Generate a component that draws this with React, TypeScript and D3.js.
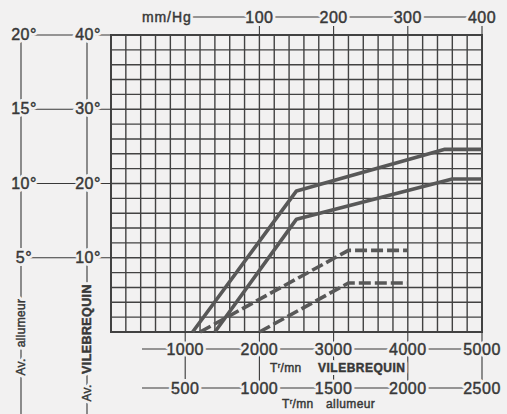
import React from "react";
import * as d3 from "d3";

const rpmTicks = [1000, 2000, 3000, 4000, 5000];
const allumeurTicks = [500, 1000, 1500, 2000, 2500];
const vacuumTicks = [100, 200, 300, 400];
const vilDegTicks = [10, 20, 30, 40];
const allDegTicks = [5, 10, 15, 20];

const solidUpper: [number, number][] = [[1100, 0], [2500, 19], [4500, 24.6], [5000, 24.6]];
const solidLower: [number, number][] = [[1400, 0], [2500, 15.2], [4600, 20.6], [5000, 20.6]];
const dashedUpper: [number, number][] = [[1200, 0], [3200, 11], [4000, 11]];
const dashedLower: [number, number][] = [[2000, 0], [3200, 6.6], [4000, 6.6]];

const W = 507, H = 414;
const BG = "#f2f1f1";
const INK = "#383838";
const GRID = "#424242";
const CURVE = "#585858";
const FONT = "'Liberation Sans', Arial, sans-serif";

type LabelProps = {
  x?: number; y?: number; transform?: string; size?: number; anchor?: string;
  weight?: string | number; spacing?: number; children: React.ReactNode; dy?: string;
};

function Label({ x, y, transform, size = 16, anchor = "middle", weight = "normal", spacing = 0.5, children, dy }: LabelProps) {
  const common = {
    x, y, transform, dy, fontFamily: FONT, fontSize: size, textAnchor: anchor as any,
    fontWeight: weight as any, letterSpacing: spacing,
  };
  return (
    <g>
      <text {...common} fill={BG} stroke={BG} strokeWidth={6} strokeLinejoin="round">{children}</text>
      <text {...common} fill={INK} stroke={INK} strokeWidth={0.45}>{children}</text>
    </g>
  );
}

export default function App() {
  const x = d3.scaleLinear().domain([0, 5000]).range([111, 482]);
  const y = d3.scaleLinear().domain([0, 40]).range([332, 35]);
  const line = d3.line<[number, number]>().x(d => x(d[0])).y(d => y(d[1]));
  const vGrid = d3.range(0, 5001, 200);
  const hGrid = d3.range(0, 41, 2);

  const topY = 17;
  const vilRowY = 349;
  const allRowY = 388;

  return (
    <svg width={W} height={H} style={{ position: "absolute", left: 0, top: 0, background: BG }}>
      <rect x={0} y={0} width={W} height={H} fill={BG} />
      {/* grid */}
      {vGrid.map(v => (
        <line key={"v" + v} x1={x(v)} x2={x(v)} y1={y(0)} y2={y(40)} stroke={GRID} strokeWidth={1.4} />
      ))}
      {hGrid.map(v => (
        <line key={"h" + v} x1={x(0)} x2={x(5000)} y1={y(v)} y2={y(v)} stroke={GRID} strokeWidth={1.4} />
      ))}
      <rect x={x(0)} y={y(40)} width={x(5000) - x(0)} height={y(0) - y(40)} fill="none" stroke={GRID} strokeWidth={2} />

      {/* curves */}
      <path d={line(solidUpper) || ""} fill="none" stroke={CURVE} strokeWidth={3.6} strokeLinejoin="round" />
      <path d={line(solidLower) || ""} fill="none" stroke={CURVE} strokeWidth={3.6} strokeLinejoin="round" />
      <path d={line(dashedUpper) || ""} fill="none" stroke={CURVE} strokeWidth={3.6} strokeDasharray="12 4" />
      <path d={line(dashedLower) || ""} fill="none" stroke={CURVE} strokeWidth={3.6} strokeDasharray="12 4" />

      {/* top vacuum axis */}
      <line x1={190} x2={x(5000)} y1={topY} y2={topY} stroke={INK} strokeWidth={1.1} />
      {vacuumTicks.map(m => (
        <line key={"tt" + m} x1={x(1000 + m * 10)} x2={x(1000 + m * 10)} y1={topY} y2={y(40)} stroke={INK} strokeWidth={1.1} />
      ))}
      <Label x={142} y={topY + 5} size={14} anchor="start" spacing={0.9}>mm/Hg</Label>
      {vacuumTicks.map(m => (
        <Label key={"tl" + m} x={x(1000 + m * 10)} y={topY + 6}>{m}</Label>
      ))}

      {/* left axes */}
      <line x1={21} x2={21} y1={y(40)} y2={H} stroke={INK} strokeWidth={1.1} />
      <line x1={87} x2={87} y1={y(40)} y2={H} stroke={INK} strokeWidth={1.1} />
      {vilDegTicks.map(d => (
        <line key={"lh" + d} x1={21} x2={x(0)} y1={y(d)} y2={y(d)} stroke={INK} strokeWidth={1.1} />
      ))}
      {allDegTicks.map(d => (
        <Label key={"la" + d} x={24} y={y(d * 2) + 5}>{d + "°"}</Label>
      ))}
      {vilDegTicks.map(d => (
        <Label key={"lv" + d} x={88} y={y(d) + 5}>{d + "°"}</Label>
      ))}
      <Label transform="translate(21,323) rotate(-90)" dy="0.35em" size={12} spacing={0.3}>allumeur</Label>
      <Label transform="translate(21,367) rotate(-90)" dy="0.35em" size={12} spacing={0.3}>Av.</Label>
      <Label transform="translate(87,329) rotate(-90)" dy="0.35em" size={12.5} weight="bold" spacing={0.4}>VILEBREQUIN</Label>
      <Label transform="translate(87,393) rotate(-90)" dy="0.35em" size={12} spacing={0.3}>Av.</Label>

      {/* bottom axes */}
      <line x1={142} x2={x(5000)} y1={vilRowY} y2={vilRowY} stroke={INK} strokeWidth={1.1} />
      <line x1={142} x2={x(5000)} y1={allRowY} y2={allRowY} stroke={INK} strokeWidth={1.1} />
      {rpmTicks.map(r => (
        <line key={"bt" + r} x1={x(r)} x2={x(r)} y1={y(0)} y2={allRowY} stroke={INK} strokeWidth={1.1} />
      ))}
      {rpmTicks.map(r => (
        <Label key={"bv" + r} x={x(r)} y={vilRowY + 6}>{r}</Label>
      ))}
      {allumeurTicks.map((a, i) => (
        <Label key={"ba" + a} x={x(rpmTicks[i])} y={allRowY + 6}>{a}</Label>
      ))}
      <Label x={270} y={372} size={12} anchor="start" spacing={0.3}>
        <tspan>T</tspan><tspan fontSize={8} dy={-4}>r</tspan><tspan dy={4}>/mn</tspan>
      </Label>
      <Label x={318} y={372} size={12} anchor="start" weight="bold" spacing={0.5}>VILEBREQUIN</Label>
      <Label x={282} y={408} size={12} anchor="start" spacing={0.3}>
        <tspan>T</tspan><tspan fontSize={8} dy={-4}>r</tspan><tspan dy={4}>/mn</tspan>
      </Label>
      <Label x={326} y={408} size={12} anchor="start" spacing={0.4}>allumeur</Label>
    </svg>
  );
}
